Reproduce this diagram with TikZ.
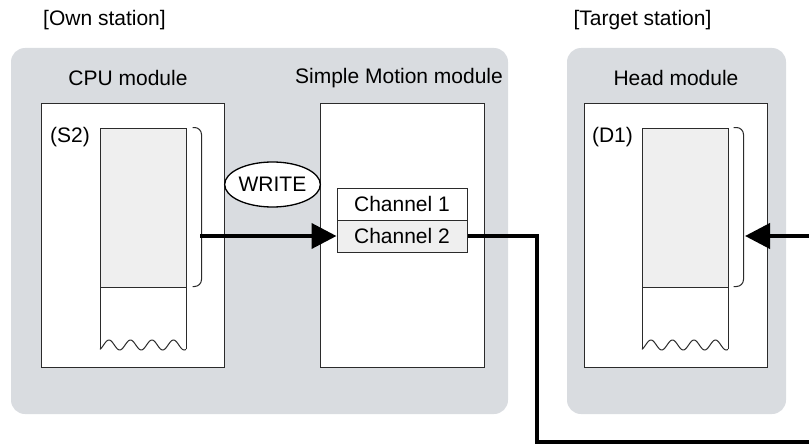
\documentclass[tikz,border=0pt]{standalone}
\usepackage{fontspec}
\setmainfont{Liberation Sans}
\usetikzlibrary{arrows.meta,shapes.geometric}
\definecolor{panel}{HTML}{D9DCE0}
\definecolor{memfill}{HTML}{EFEFEF}
\definecolor{edge}{HTML}{2B2B2B}
\tikzset{
  font=\fontsize{21}{24}\selectfont,
  station/.style={fill=panel, rounded corners=14pt, inner sep=0pt},
  module/.style={draw=edge, line width=1pt, fill=white, inner sep=0pt, minimum height=264pt},
  memory/.style={draw=edge, line width=1pt, fill=memfill, inner sep=0pt,
    minimum width=86pt, minimum height=159pt},
  channel/.style={draw=edge, line width=1pt, inner sep=0pt,
    minimum width=130pt, minimum height=32pt},
  title/.style={inner sep=0pt},
  cmd/.style={ellipse, draw=black, line width=1.3pt, fill=white, inner sep=0pt,
    minimum width=89pt, minimum height=45pt},
  brace/.style={draw=edge, line width=1pt, rounded corners=7pt},
  tail/.style={draw=edge, line width=1pt},
  flow/.style={-{Triangle[length=25pt,width=25pt]}, line width=4pt}
}

\begin{document}
\begin{tikzpicture}[x=1pt,y=-1pt]
  \useasboundingbox (0,0) rectangle (809,444);
  \clip (0,0) rectangle (809,444);

  % stations
  \node[title] (ownlabel) at (104.5,20) {[Own station]};
  \node[title] (targetlabel) at (642.5,20) {[Target station]};
  \node[station, minimum width=497pt, minimum height=366pt] (own) at (259.5,231) {};
  \node[station, minimum width=219pt, minimum height=366pt] (target) at (676.5,231) {};

  % modules
  \node[module, minimum width=183pt] (cpu) at (132.5,235) {};
  \node[module, minimum width=164pt] (smm) at (402,235) {};
  \node[module, minimum width=183pt] (head) at (675.5,235) {};
  \node[title] (cputitle) at (128,78) {CPU module};
  \node[title] (smmtitle) at (399,78) {Simple Motion module};
  \node[title] (headtitle) at (676,78) {Head module};

  % device memory
  \node[memory] (s2) at (143,207.5) {};
  \node[memory] (d1) at (685,207.5) {};
  \node[title] (s2label) at (70,137) {(S2)};
  \node[title] (d1label) at (612.5,137) {(D1)};
  \foreach \mx in {100,642} {
    \draw[tail] (\mx,287) -- (\mx,349.3);
    \draw[tail] (\mx+86,287) -- (\mx+86,349.3);
    \draw[tail] plot[domain=0:86, samples=90, smooth]
      ({\mx+\x},{345-5*sin(16.744*\x-60)});
  }
  \draw[brace] ([xshift=6pt]s2.north east) -- ++(9,0) -- ++(0,159) -- ++(-9,0);
  \draw[brace] ([xshift=5pt]d1.north east) -- ++(10,0) -- ++(0,159) -- ++(-10,0);

  % channels
  \node[channel, fill=white] (ch1) at (402,204) {Channel 1};
  \node[channel, fill=memfill] (ch2) at (402,236) {Channel 2};

  \node[cmd] (write) at (272.5,184.5) {WRITE};

  % transfer
  \coordinate (s2out) at (200,236);
  \coordinate (drop) at (537,442);
  \coordinate (away) at (830,442);
  \coordinate (d1in) at (745,236);
  \draw[flow] (s2out) -- (ch2.west);
  \draw[flow] (ch2.east) -| (drop) -- (away) |- (d1in);
\end{tikzpicture}
\end{document}
